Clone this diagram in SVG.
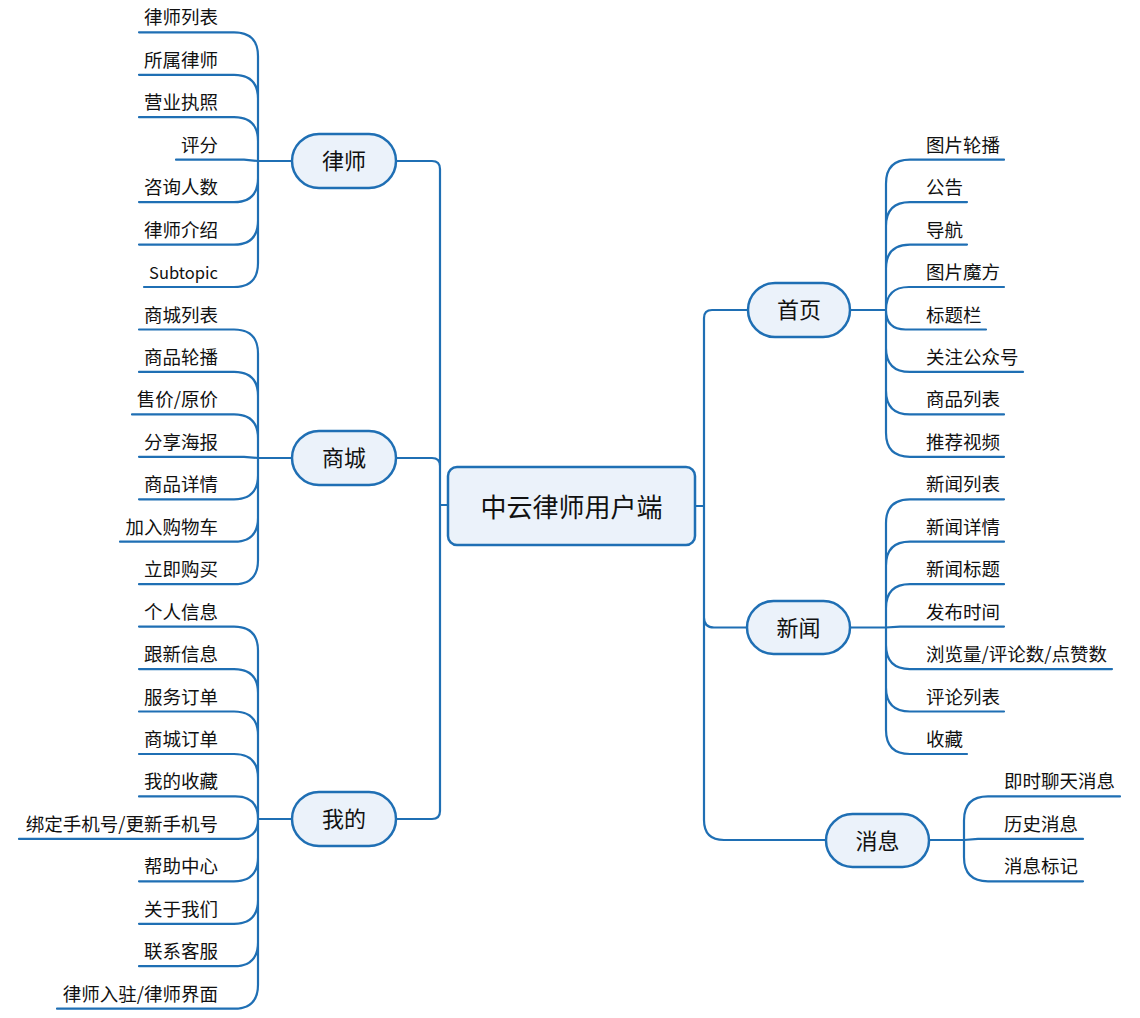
<svg xmlns="http://www.w3.org/2000/svg" width="1140" height="1018" viewBox="0 0 1140 1018">
<style>
.c{fill:none;stroke:#1f6fb4;stroke-width:2.2;stroke-linecap:round;stroke-linejoin:round}
.n{fill:#ebf2fa;stroke:#1f6fb4;stroke-width:2.5}
text{font-family:"Noto Sans CJK SC","Noto Sans",sans-serif;fill:#111}
.t{font-size:22px;text-anchor:middle}
.m{font-size:26px;text-anchor:middle}
.l{font-size:18.5px;text-anchor:end}
.r{font-size:18.5px}
</style>
<rect width="1140" height="1018" fill="#fff"/>
<g id="connectors">
<path class="c" d="M440,505 L448,505 M695,506 L704,506"/>
<path class="c" d="M396,161 L432,161 Q440,161 440,169 L440,811 Q440,819 432,819 L396,819 M396,458 L432,458 Q440,458 440,466"/>
<path class="c" d="M850,310 L712,310 Q704,310 704,318 L704,820 Q704,840 724,840 L826,840 M850,627.5 L714,627.5 Q704,627.5 704,617.5"/>
<path class="c" d="M292,161 L258,161
M258,161 L258,56.3 Q258,32.3 234,32.3 L139,32.3
M258,161 L258,98.8 Q258,74.8 234,74.8 L139,74.8
M258,161 L258,141.2 Q258,117.2 234,117.2 L139,117.2
M258,161 L244,159.7 L176,159.7
M258,161 L258,178.1 Q258,202.1 234,202.1 L139,202.1
M258,161 L258,220.6 Q258,244.6 234,244.6 L139,244.6
M258,161 L258,263 Q258,287 234,287 L144,287"/>
<path class="c" d="M292,458 L258,458
M258,458 L258,353.5 Q258,329.5 234,329.5 L139,329.5
M258,458 L258,395.9 Q258,371.9 234,371.9 L139,371.9
M258,458 L258,438.4 Q258,414.4 234,414.4 L132,414.4
M258,458 L244,456.8 L139,456.8
M258,458 L258,475.3 Q258,499.3 234,499.3 L139,499.3
M258,458 L258,517.7 Q258,541.7 234,541.7 L120,541.7
M258,458 L258,560.2 Q258,584.2 234,584.2 L139,584.2"/>
<path class="c" d="M292,819 L258,819
M258,819 L258,650.6 Q258,626.6 234,626.6 L139,626.6
M258,819 L258,693.1 Q258,669.1 234,669.1 L139,669.1
M258,819 L258,735.5 Q258,711.5 234,711.5 L139,711.5
M258,819 L258,778 Q258,754 234,754 L139,754
M258,819 Q258,796.4 235.4,796.4 L139,796.4
M258,819 Q258,838.9 238.1,838.9 L19,838.9
M258,819 L258,857.3 Q258,881.3 234,881.3 L139,881.3
M258,819 L258,899.8 Q258,923.8 234,923.8 L139,923.8
M258,819 L258,942.2 Q258,966.2 234,966.2 L139,966.2
M258,819 L258,984.7 Q258,1008.7 234,1008.7 L57,1008.7"/>
<path class="c" d="M850,310 L886,310
M886,310 L886,183.7 Q886,159.7 910,159.7 L1004,159.7
M886,310 L886,226.1 Q886,202.1 910,202.1 L967,202.1
M886,310 L886,268.6 Q886,244.6 910,244.6 L967,244.6
M886,310 Q886,287 909,287 L1004,287
M886,310 Q886,329.5 905.5,329.5 L986,329.5
M886,310 L886,347.9 Q886,371.9 910,371.9 L1023,371.9
M886,310 L886,390.4 Q886,414.4 910,414.4 L1004,414.4
M886,310 L886,432.8 Q886,456.8 910,456.8 L1004,456.8"/>
<path class="c" d="M850,627.5 L886,627.5
M886,627.5 L886,523.3 Q886,499.3 910,499.3 L1004,499.3
M886,627.5 L886,565.7 Q886,541.7 910,541.7 L1004,541.7
M886,627.5 L886,608.2 Q886,584.2 910,584.2 L1004,584.2
M886,627.5 L900,626.6 L1004,626.6
M886,627.5 L886,645.1 Q886,669.1 910,669.1 L1112,669.1
M886,627.5 L886,687.5 Q886,711.5 910,711.5 L1004,711.5
M886,627.5 L886,730 Q886,754 910,754 L967,754"/>
<path class="c" d="M929,840 L964,840
M964,840 L964,820.4 Q964,796.4 988,796.4 L1120,796.4
M964,840 L978,838.9 L1083,838.9
M964,840 L964,857.3 Q964,881.3 988,881.3 L1083,881.3"/>
</g>
<g id="root"><rect class="n" x="448" y="467" width="247" height="78" rx="9"/><text class="m" x="571.5" y="516.5">中云律师用户端</text></g>
<g id="lawyer"><rect class="n" x="292" y="134" width="104" height="54" rx="27"/><text class="t" x="344" y="169.4">律师</text></g>
<g id="mall"><rect class="n" x="292" y="431" width="104" height="54" rx="27"/><text class="t" x="344" y="466.4">商城</text></g>
<g id="mine"><rect class="n" x="292" y="792" width="104" height="54" rx="27"/><text class="t" x="344" y="827.4">我的</text></g>
<g id="home"><rect class="n" x="748" y="283" width="102" height="54" rx="27"/><text class="t" x="799" y="318.4">首页</text></g>
<g id="news"><rect class="n" x="747" y="601" width="103" height="53" rx="26.5"/><text class="t" x="798.5" y="635.9">新闻</text></g>
<g id="msg"><rect class="n" x="826" y="814" width="103" height="53" rx="26.5"/><text class="t" x="877.5" y="848.9">消息</text></g>
<g id="lawyer-items">
<g id="l1"><text class="l" x="218" y="24.3">律师列表</text></g>
<g id="l2"><text class="l" x="218" y="66.8">所属律师</text></g>
<g id="l3"><text class="l" x="218" y="109.2">营业执照</text></g>
<g id="l4"><text class="l" x="218" y="151.7">评分</text></g>
<g id="l5"><text class="l" x="218" y="194.1">咨询人数</text></g>
<g id="l6"><text class="l" x="218" y="236.6">律师介绍</text></g>
<g id="l7"><text class="l" x="218" y="279" style="font-size:16.5px">Subtopic</text></g>
</g>
<g id="mall-items">
<g id="s1"><text class="l" x="218" y="321.5">商城列表</text></g>
<g id="s2"><text class="l" x="218" y="363.9">商品轮播</text></g>
<g id="s3"><text class="l" x="218" y="406.4">售价/原价</text></g>
<g id="s4"><text class="l" x="218" y="448.8">分享海报</text></g>
<g id="s5"><text class="l" x="218" y="491.3">商品详情</text></g>
<g id="s6"><text class="l" x="218" y="533.7">加入购物车</text></g>
<g id="s7"><text class="l" x="218" y="576.2">立即购买</text></g>
</g>
<g id="mine-items">
<g id="w1"><text class="l" x="218" y="618.6">个人信息</text></g>
<g id="w2"><text class="l" x="218" y="661.1">跟新信息</text></g>
<g id="w3"><text class="l" x="218" y="703.5">服务订单</text></g>
<g id="w4"><text class="l" x="218" y="746">商城订单</text></g>
<g id="w5"><text class="l" x="218" y="788.4">我的收藏</text></g>
<g id="w6"><text class="l" x="218" y="830.9">绑定手机号/更新手机号</text></g>
<g id="w7"><text class="l" x="218" y="873.3">帮助中心</text></g>
<g id="w8"><text class="l" x="218" y="915.8">关于我们</text></g>
<g id="w9"><text class="l" x="218" y="958.2">联系客服</text></g>
<g id="w10"><text class="l" x="218" y="1000.7">律师入驻/律师界面</text></g>
</g>
<g id="home-items">
<g id="h1"><text class="r" x="926" y="151.7">图片轮播</text></g>
<g id="h2"><text class="r" x="926" y="194.1">公告</text></g>
<g id="h3"><text class="r" x="926" y="236.6">导航</text></g>
<g id="h4"><text class="r" x="926" y="279">图片魔方</text></g>
<g id="h5"><text class="r" x="926" y="321.5">标题栏</text></g>
<g id="h6"><text class="r" x="926" y="363.9">关注公众号</text></g>
<g id="h7"><text class="r" x="926" y="406.4">商品列表</text></g>
<g id="h8"><text class="r" x="926" y="448.8">推荐视频</text></g>
</g>
<g id="news-items">
<g id="n1"><text class="r" x="926" y="491.3">新闻列表</text></g>
<g id="n2"><text class="r" x="926" y="533.7">新闻详情</text></g>
<g id="n3"><text class="r" x="926" y="576.2">新闻标题</text></g>
<g id="n4"><text class="r" x="926" y="618.6">发布时间</text></g>
<g id="n5"><text class="r" x="926" y="661.1">浏览量/评论数/点赞数</text></g>
<g id="n6"><text class="r" x="926" y="703.5">评论列表</text></g>
<g id="n7"><text class="r" x="926" y="746">收藏</text></g>
</g>
<g id="msg-items">
<g id="m1"><text class="r" x="1004" y="788.4">即时聊天消息</text></g>
<g id="m2"><text class="r" x="1004" y="830.9">历史消息</text></g>
<g id="m3"><text class="r" x="1004" y="873.3">消息标记</text></g>
</g>
</svg>
